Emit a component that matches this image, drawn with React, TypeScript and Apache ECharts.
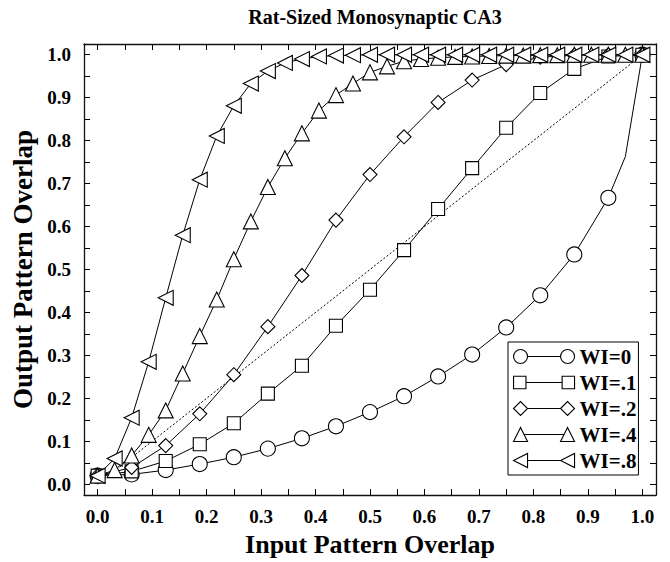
import React, { useEffect, useRef } from 'react';
import * as echarts from 'echarts';

const chartTitle = 'Rat-Sized Monosynaptic CA3';
const xAxisTitle = 'Input Pattern Overlap';
const yAxisTitle = 'Output Pattern Overlap';
const seriesNames = ['WI=0', 'WI=.1', 'WI=.2', 'WI=.4', 'WI=.8'];

const labelValues = [0, 0.1, 0.2, 0.3, 0.4, 0.5, 0.6, 0.7, 0.8, 0.9, 1.0];
const tickValues = [0, 0.05, 0.1, 0.15, 0.2, 0.25, 0.3, 0.35, 0.4, 0.45, 0.5, 0.55, 0.6, 0.65, 0.7, 0.75, 0.8, 0.85, 0.9, 0.95, 1.0];

const inputSixteenths = [0, 0.0625, 0.125, 0.1875, 0.25, 0.3125, 0.375, 0.4375, 0.5, 0.5625, 0.625, 0.6875, 0.75, 0.8125, 0.875, 0.9375, 1.0];
const inputThirtySeconds = [
  0, 0.03125, 0.0625, 0.09375, 0.125, 0.15625, 0.1875, 0.21875, 0.25, 0.28125, 0.3125,
  0.34375, 0.375, 0.40625, 0.4375, 0.46875, 0.5, 0.53125, 0.5625, 0.59375, 0.625, 0.65625,
  0.6875, 0.71875, 0.75, 0.78125, 0.8125, 0.84375, 0.875, 0.90625, 0.9375, 0.96875, 1.0,
];

// WI=0 has one unmarked bend point near the right end
const wi0Inputs = [0, 0.0625, 0.125, 0.1875, 0.25, 0.3125, 0.375, 0.4375, 0.5, 0.5625, 0.625, 0.6875, 0.75, 0.8125, 0.875, 0.9375, 0.96875, 1.0];
const wi0Outputs = [0.02, 0.023, 0.033, 0.047, 0.063, 0.083, 0.107, 0.135, 0.168, 0.205, 0.251, 0.302, 0.365, 0.44, 0.535, 0.667, 0.763, 1.0];
const wi0Marked = [true, true, true, true, true, true, true, true, true, true, true, true, true, true, true, true, false, true];

const wi1Outputs = [0.02, 0.03, 0.054, 0.093, 0.142, 0.211, 0.276, 0.369, 0.453, 0.545, 0.641, 0.736, 0.83, 0.911, 0.967, 0.996, 1.0];
const wi2Outputs = [0.02, 0.039, 0.09, 0.164, 0.255, 0.367, 0.486, 0.615, 0.721, 0.809, 0.889, 0.941, 0.977, 0.994, 0.999, 1.0, 1.0];
const wi4Outputs = [
  0.02, 0.033, 0.067, 0.115, 0.172, 0.258, 0.345, 0.43, 0.524, 0.612, 0.692,
  0.759, 0.817, 0.87, 0.906, 0.933, 0.959, 0.973, 0.985, 0.99, 0.993, 0.995,
  0.996, 0.997, 0.998, 0.998, 0.999, 0.999, 1.0, 1.0, 1.0, 1.0, 1.0,
];
const wi8Outputs = [
  0.02, 0.06, 0.155, 0.285, 0.434, 0.58, 0.709, 0.811, 0.881, 0.933, 0.962,
  0.981, 0.99, 0.996, 0.998, 0.999, 1.0, 1.0, 1.0, 1.0, 1.0, 1.0,
  1.0, 1.0, 1.0, 1.0, 1.0, 1.0, 1.0, 1.0, 1.0, 1.0, 1.0,
];

const diagonalInputs = [0, 1];
const diagonalOutputs = [0, 1];

const FONT = '"Liberation Serif", "Times New Roman", serif';

const legendIcons = [
  'path://M0 7A7 7 0 1 1 14 7A7 7 0 1 1 0 7ZM14 7L47 7M47 7A7 7 0 1 1 61 7A7 7 0 1 1 47 7Z',
  'path://M1 1L13 1L13 13L1 13ZM13 7L48 7M48 1L60 1L60 13L48 13Z',
  'path://M0 7L7 0L14 7L7 14ZM14 7L47 7M47 7L54 0L61 7L54 14Z',
  'path://M0 14L7 0L14 14ZM10.5 7L50.5 7M47 14L54 0L61 14Z',
  'path://M0 7L14 0L14 14ZM14 7L47 7M47 7L61 0L61 14Z',
];

function pairs(xs: number[], ys: number[]) {
  return xs.map((x, i) => [x, ys[i]]);
}

export default function App() {
  const ref = useRef<HTMLDivElement>(null);

  useEffect(() => {
    document.body.style.margin = '0';
    if (!ref.current) return;
    const chart = echarts.init(ref.current, undefined, { renderer: 'svg' });

    const axisBase = (position: string, showLabel: boolean, isX: boolean) => ({
      type: 'value',
      position,
      min: -0.025,
      max: 1.025,
      axisLine: { show: true, onZero: false, lineStyle: { color: '#111', width: 1.3 } },
      axisTick: {
        show: true,
        inside: true,
        length: 6,
        customValues: tickValues,
        lineStyle: { color: '#000', width: 1 },
      },
      axisLabel: {
        show: showLabel,
        customValues: labelValues,
        formatter: (v: number) => v.toFixed(1),
        fontFamily: FONT,
        fontWeight: 'bold',
        fontSize: 19,
        color: '#000',
        margin: isX ? 12 : 13,
      },
      splitLine: { show: false },
    });

    const markerStyle = { color: '#fff', borderColor: '#000', borderWidth: 1.1 };
    const lineStyle = { color: '#000', width: 1 };

    const option: any = {
      animation: false,
      backgroundColor: '#fff',
      title: {
        text: chartTitle,
        left: 370,
        textAlign: 'center',
        top: 2,
        textStyle: { fontFamily: FONT, fontWeight: 'bold', fontSize: 20, color: '#000' },
      },
      grid: {
        left: 84,
        right: 14,
        top: 44,
        bottom: 60,
        show: false,
      },
      legend: {
        orient: 'vertical',
        left: 508,
        top: 342,
        data: seriesNames.map((name, i) => ({ name, icon: legendIcons[i] })),
        itemWidth: 61,
        itemHeight: 14,
        itemGap: 5,
        itemTextGap: 3,
        padding: [4, 2, 4, 5],
        borderColor: '#000',
        borderWidth: 1,
        backgroundColor: '#fff',
        selectedMode: false,
        itemStyle: { color: '#fff', borderColor: '#000', borderWidth: 1.1 },
        textStyle: { fontFamily: FONT, fontWeight: 'bold', fontSize: 21, color: '#000', lineHeight: 21 },
      },
      xAxis: [
        {
          ...axisBase('bottom', true, true),
          name: xAxisTitle,
          nameLocation: 'middle',
          nameGap: 36,
          nameTextStyle: { fontFamily: FONT, fontWeight: 'bold', fontSize: 26, color: '#000' },
        },
        axisBase('top', false, true),
      ],
      yAxis: [
        {
          ...axisBase('left', true, false),
          name: yAxisTitle,
          nameLocation: 'middle',
          nameGap: 47,
          nameTextStyle: { fontFamily: FONT, fontWeight: 'bold', fontSize: 27, color: '#000' },
        },
        axisBase('right', false, false),
      ],
      series: [
        {
          name: 'diagonal',
          type: 'line',
          data: pairs(diagonalInputs, diagonalOutputs),
          showSymbol: false,
          symbol: 'none',
          lineStyle: { color: '#000', width: 1, type: [2, 2] },
          silent: true,
          clip: false,
          z: 1,
        },
        {
          name: seriesNames[0],
          type: 'line',
          data: wi0Inputs.map((x, i) =>
            wi0Marked[i] ? { value: [x, wi0Outputs[i]] } : { value: [x, wi0Outputs[i]], symbol: 'none' }
          ),
          symbol: 'circle',
          symbolSize: 15,
          itemStyle: markerStyle,
          lineStyle,
          clip: false,
          z: 2,
        },
        {
          name: seriesNames[1],
          type: 'line',
          data: pairs(inputSixteenths, wi1Outputs),
          symbol: 'rect',
          symbolSize: 13,
          itemStyle: markerStyle,
          lineStyle,
          clip: false,
          z: 3,
        },
        {
          name: seriesNames[2],
          type: 'line',
          data: pairs(inputSixteenths, wi2Outputs),
          symbol: 'diamond',
          symbolSize: 14,
          itemStyle: markerStyle,
          lineStyle,
          clip: false,
          z: 4,
        },
        {
          name: seriesNames[3],
          type: 'line',
          data: pairs(inputThirtySeconds, wi4Outputs),
          symbol: 'triangle',
          symbolSize: 15,
          itemStyle: markerStyle,
          lineStyle,
          clip: false,
          z: 5,
        },
        {
          name: seriesNames[4],
          type: 'line',
          data: pairs(inputThirtySeconds, wi8Outputs),
          symbol: 'triangle',
          symbolRotate: 90,
          symbolSize: 15,
          itemStyle: markerStyle,
          lineStyle,
          clip: false,
          z: 6,
        },
      ],
    };

    chart.setOption(option);
    return () => chart.dispose();
  }, []);

  return <div ref={ref} style={{ width: 670, height: 562 }} />;
}
